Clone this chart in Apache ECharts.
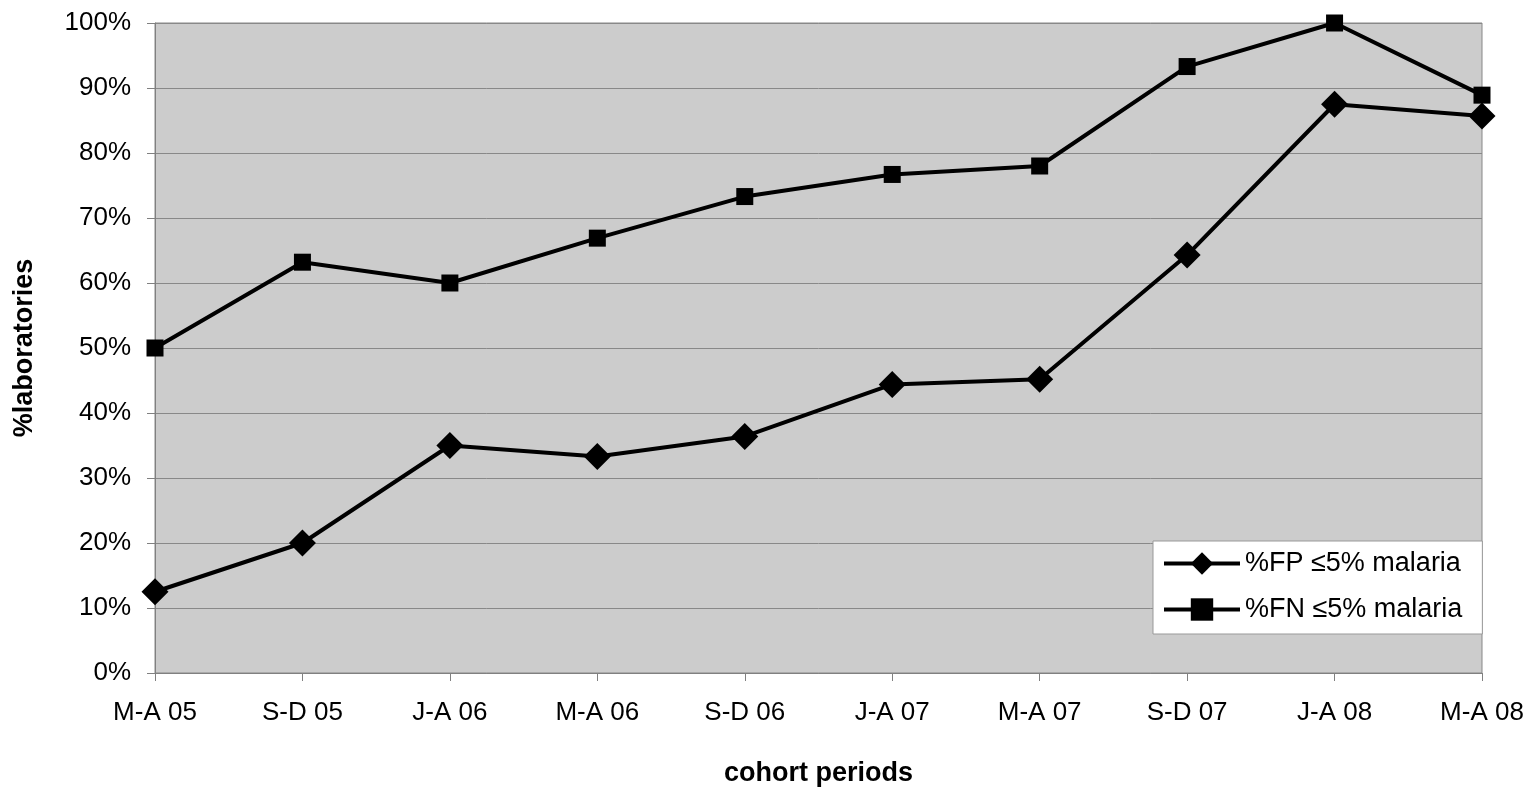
<!DOCTYPE html>
<html>
<head>
<meta charset="utf-8">
<script src="https://cdn.jsdelivr.net/npm/echarts@6/dist/echarts.min.js"></script>
<style>
html, body { margin: 0; padding: 0; background: #fff; }
#chart { width: 1538px; height: 800px; }
</style>
</head>
<body>
<div id="chart"></div>
<script>
var categories = ['M-A 05', 'S-D 05', 'J-A 06', 'M-A 06', 'S-D 06', 'J-A 07', 'M-A 07', 'S-D 07', 'J-A 08', 'M-A 08'];
var fpValues = [12.5, 20, 35, 33.3, 36.4, 44.4, 45.2, 64.3, 87.5, 85.7];
var fnValues = [50, 63.2, 60, 66.9, 73.3, 76.7, 78, 93.3, 100, 88.9];
var seriesNames = ['%FP \u22645% malaria', '%FN \u22645% malaria'];

var chart = echarts.init(document.getElementById('chart'));
var font = 'Liberation Sans, Arial, sans-serif';
var option = {
    animation: false,
    grid: {
        left: 155,
        right: 56,
        top: 23,
        bottom: 127,
        outerBoundsMode: 'none',
        containLabel: false,
        show: true,
        backgroundColor: '#cccccc',
        borderColor: '#888888',
        borderWidth: 1
    },
    legend: {
        orient: 'vertical',
        left: 1153,
        top: 541,
        padding: [9, 20, 11, 9],
        itemGap: 19,
        itemWidth: 76,
        itemHeight: 28,
        backgroundColor: '#ffffff',
        borderColor: '#999999',
        borderWidth: 1,
        lineStyle: { width: 4 },
        textStyle: { fontFamily: font, fontSize: 27, color: '#000' },
        data: seriesNames
    },
    xAxis: {
        type: 'category',
        data: categories,
        boundaryGap: false,
        name: 'cohort periods',
        nameLocation: 'middle',
        nameGap: 87,
        nameTextStyle: { fontFamily: font, fontSize: 27, fontWeight: 'bold', color: '#000' },
        axisLine: { lineStyle: { color: '#808080', width: 1 } },
        axisTick: { show: true, alignWithLabel: true, length: 8, lineStyle: { color: '#808080' } },
        axisLabel: { fontFamily: font, fontSize: 26, color: '#000', margin: 27 },
        splitLine: { show: false }
    },
    yAxis: {
        type: 'value',
        min: 0,
        max: 100,
        interval: 10,
        name: '%laboratories',
        nameLocation: 'middle',
        nameGap: 117,
        nameTextStyle: { fontFamily: font, fontSize: 27, fontWeight: 'bold', color: '#000' },
        axisLine: { show: true, lineStyle: { color: '#808080', width: 1 } },
        axisTick: { show: true, length: 8, lineStyle: { color: '#808080' } },
        axisLabel: { fontFamily: font, fontSize: 26, color: '#000', margin: 24, formatter: '{value}%' },
        splitLine: { show: true, lineStyle: { color: '#888888', width: 1 } }
    },
    series: [
        {
            name: seriesNames[0],
            type: 'line',
            data: fpValues,
            symbol: 'diamond',
            symbolSize: 27,
            itemStyle: { color: '#000' },
            lineStyle: { color: '#000', width: 4 }
        },
        {
            name: seriesNames[1],
            type: 'line',
            data: fnValues,
            symbol: 'rect',
            symbolSize: 17,
            itemStyle: { color: '#000' },
            lineStyle: { color: '#000', width: 4 }
        }
    ]
};
chart.setOption(option);
</script>
</body>
</html>
